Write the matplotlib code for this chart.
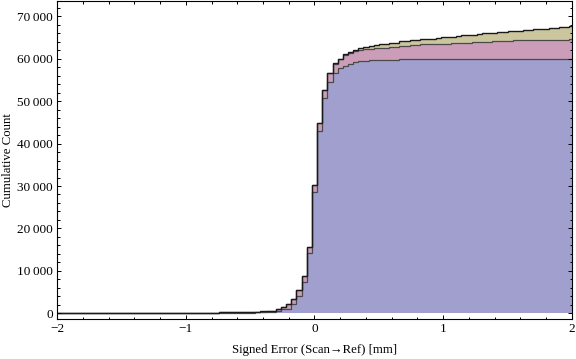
import matplotlib
matplotlib.use("Agg")
import matplotlib.pyplot as plt
from matplotlib.ticker import MultipleLocator, FuncFormatter
import numpy as np

# histogram bins, width 0.04, centred on multiples of 0.04
bin_edges = np.linspace(-2.02, 2.02, 102)

# cumulative counts per series (bin centres -2.00 ... 2.00)
blue_cum = [
    0, 0, 0, 0, 0, 0, 0, 0, 0, 0,
    5, 5, 10, 10, 10, 15, 15, 20, 20, 25, 25, 30, 30, 35, 40,
    45, 50, 55, 60, 65, 70, 80, 90, 100, 110, 120, 130, 150, 165, 180,
    200, 240, 280, 470, 940, 1100, 2120, 4170, 7470, 14250, 28600, 43050,
    50850, 54540, 56660, 57740, 58380, 58850, 59160, 59390, 59560, 59630, 59700,
    59720, 59730, 59740, 59750,
    59980, 59980, 59980, 59980, 59980, 59980, 59980, 59980, 59980,
    59990, 59990, 59990, 59990, 59990, 59990, 59990, 59990, 59990, 59990, 59990, 59990,
    60010, 60010, 60010, 60010, 60010, 60010, 60010, 60010, 60010, 60010, 60010, 60010, 60010,
]
pink_cum = [
    0, 0, 0, 0, 0, 0, 0, 0, 0, 0,
    5, 5, 5, 10, 10, 10, 15, 15, 20, 20, 25, 25, 30, 30, 35,
    40, 45, 50, 55, 60, 70, 80, 90, 100, 110, 120, 140, 160, 175, 190,
    200, 220, 240, 470, 560, 1000, 1200, 1260, 1400, 1460, 1680, 1720,
    1850, 2120, 2200, 2230, 2450, 2560, 2600, 2690, 2700, 2770, 2790,
    2830, 2900, 3100, 3120, 3130, 3150, 3280, 3300, 3400, 3420, 3440, 3460,
    3600, 3620, 3640, 3660, 3820, 3840, 3860, 3880, 4060, 4080, 4100, 4120,
    4140, 4300, 4320, 4340, 4360, 4380, 4420, 4440, 4460, 4480, 4500, 4520,
    4540, 4560,
]
olive_cum = [
    0, 0, 0, 0, 0, 0, 0, 0, 0, 0,
    0, 0, 0, 0, 0, 0, 0, 0, 0, 0, 0, 0, 0, 0, 0,
    2, 2, 3, 3, 4, 4, 5, 5, 6, 6, 7, 7, 8, 8, 9,
    10, 10, 10, 10, 15, 15, 15, 20, 20, 20, 25, 25,
    30, 30, 50, 100, 200, 310, 400, 470, 490, 550, 670,
    850, 900, 950, 970, 1000, 1100, 1130, 1160, 1260, 1290, 1350, 1380,
    1480, 1510, 1620, 1650, 1700, 1730, 1880, 1900, 1980, 2000, 2020, 2150,
    2170, 2200, 2220, 2240, 2370, 2390, 2550, 2570, 2590, 2790, 2810, 2990,
    3010, 3120,
]

blue_c = "#A09FCD"
pink_c = "#CB9DB8"
olive_c = "#CCC69F"

plt.rcParams['font.family'] = ['Liberation Serif', 'DejaVu Serif']

fig = plt.figure(figsize=(5.76, 3.59), dpi=100)
ax = fig.add_axes([0.099, 0.111, 0.894, 0.887])

b = np.array(blue_cum, dtype=float)
mid = b + np.array(pink_cum)
top = mid + np.array(olive_cum)

ax.stairs(b, bin_edges, baseline=0, fill=True, color=blue_c, lw=0)
ax.stairs(mid, bin_edges, baseline=b, fill=True, color=pink_c, lw=0)
ax.stairs(top, bin_edges, baseline=mid, fill=True, color=olive_c, lw=0)
ax.stairs(b, bin_edges, baseline=None, color="#4a4a4a", lw=0.9)
ax.stairs(mid, bin_edges, baseline=None, color="#4a4a4a", lw=0.9)
ax.stairs(top, bin_edges, baseline=None, color="#1a1a1a", lw=1.0)

ax.set_xlim(-2, 2)
ax.set_ylim(-1400, 73700)

ax.xaxis.set_major_locator(MultipleLocator(1))
ax.xaxis.set_minor_locator(MultipleLocator(0.2))
ax.yaxis.set_major_locator(MultipleLocator(10000))
ax.yaxis.set_minor_locator(MultipleLocator(2000))
ax.yaxis.set_major_formatter(FuncFormatter(lambda v, p: f"{int(v):,}".replace(",", "\u2009")))

ax.tick_params(which="both", direction="in", top=True, right=True, labelsize=9.5, pad=3)
ax.tick_params(which="major", length=3.2, width=0.7)
ax.tick_params(which="minor", length=1.8, width=0.7)
for s in ax.spines.values():
    s.set_linewidth(0.8)

ax.set_xlabel("Signed Error (Scan\u2192Ref) [mm]", fontsize=9.2, labelpad=6)
ax.set_ylabel("Cumulative Count", fontsize=9.2)
ax.yaxis.set_label_coords(-0.084, 0.5)

plt.savefig("out.png", dpi=100)
